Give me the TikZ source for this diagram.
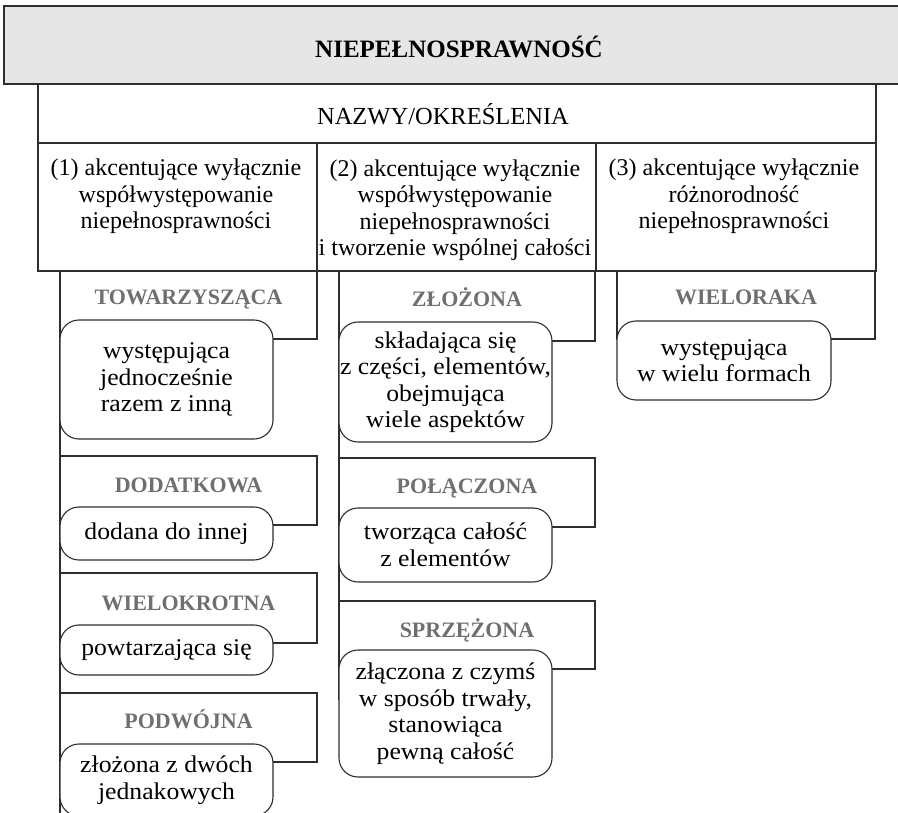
\documentclass[tikz,border=0pt]{standalone}
\usepackage{fontspec}
\setmainfont{Liberation Serif}
\newfontfamily\boxfont[FakeStretch=1.07]{Liberation Serif}
\definecolor{linec}{HTML}{2E2E2E}
\definecolor{catgrey}{HTML}{6F6F6F}
\definecolor{topfill}{HTML}{E6E6E6}
\begin{document}
\begin{tikzpicture}[x=1pt,y=-1pt,
  frame/.style={draw=linec, line width=1.1pt},
  plainbox/.style={frame, rectangle, inner sep=0pt, outer sep=0pt, anchor=north west},
  titletext/.style={font=\fontsize{25}{28}\selectfont\bfseries, inner sep=0pt, anchor=base},
  nametext/.style={font=\fontsize{24.5}{28}\selectfont, inner sep=0pt, anchor=base},
  coltext/.style={font=\fontsize{24}{26.5}\selectfont, align=center, inner sep=0pt, anchor=base},
  cattext/.style={text=catgrey, font=\fontsize{22}{25}\selectfont\bfseries, inner sep=0pt, anchor=base},
  rbox/.style={frame, rounded corners=19pt, fill=white, align=center, inner sep=0pt, outer sep=0pt,
    font=\boxfont\fontsize{24}{26.5}\selectfont, anchor=north west},
]
\useasboundingbox (0,0) rectangle (898,813);
\clip (0,0) rectangle (898,813);
% header
\node[plainbox, fill=topfill, minimum width=900, minimum height=78] (top) at (4,6) {};
\node[titletext] (title) at (459,58) {NIEPEŁNOSPRAWNOŚĆ};
\node[plainbox, fill=white, minimum width=838, minimum height=59] (names) at (38,84) {};
\node[nametext] (namest) at (443,125) {NAZWY/OKREŚLENIA};
% columns
\node[plainbox, minimum width=279, minimum height=128] (k1) at (38,143) {};
\node[plainbox, minimum width=279, minimum height=128] (k2) at (317,143) {};
\node[plainbox, minimum width=280, minimum height=128] (k3) at (596,143) {};
% (base anchor of a multi-line node = baseline of its last line)
\node[coltext] (k1t) at (176,229) {(1) akcentujące wyłącznie\\współwystępowanie\\niepełnosprawności};
\node[coltext] (k2t) at (455,256) {(2) akcentujące wyłącznie\\współwystępowanie\\niepełnosprawności\\i tworzenie wspólnej całości};
\node[coltext] (k3t) at (734,229) {(3) akcentujące wyłącznie\\różnorodność\\niepełnosprawności};
% category boxes
\node[plainbox, minimum width=257, minimum height=68] (t1) at (60,271) {};
\node[plainbox, minimum width=257, minimum height=69] (t2) at (60,456) {};
\node[plainbox, minimum width=257, minimum height=70] (t3) at (60,573) {};
\node[plainbox, minimum width=257, minimum height=69] (t4) at (60,693) {};
\node[plainbox, minimum width=256, minimum height=70] (z1) at (339,271) {};
\node[plainbox, minimum width=256, minimum height=69] (z2) at (339,458) {};
\node[plainbox, minimum width=256, minimum height=68] (z3) at (339,601) {};
\node[plainbox, minimum width=258, minimum height=68] (w1) at (617,271) {};
% connectors (vertical spines)
\draw[frame] (t1.north west) -- (60,813);
\draw[frame] (z1.north west) -- (339,700);
% category labels
\node[cattext] (t1t) at (188.5,305) {TOWARZYSZĄCA};
\node[cattext] (t2t) at (188.5,492) {DODATKOWA};
\node[cattext] (t3t) at (188.5,610) {WIELOKROTNA};
\node[cattext] (t4t) at (188.5,728) {PODWÓJNA};
\node[cattext] (z1t) at (467,307) {ZŁOŻONA};
\node[cattext] (z2t) at (467,493) {POŁĄCZONA};
\node[cattext] (z3t) at (467,637) {SPRZĘŻONA};
\node[cattext] (w1t) at (746,305) {WIELORAKA};
% rounded description boxes
\node[rbox, minimum width=213, minimum height=119] (r1) at (60,320) {występująca\\jednocześnie\\razem z inną};
\node[rbox, minimum width=213, minimum height=53] (r2) at (60,507) {dodana do innej};
\node[rbox, minimum width=213, minimum height=50] (r3) at (60,625) {powtarzająca się};
\node[rbox, minimum width=213, minimum height=72] (r4) at (60,744) {złożona z dwóch\\jednakowych};
\node[rbox, minimum width=213, minimum height=120] (r5) at (339,322) {składająca się\\z części, elementów,\\obejmująca\\wiele aspektów};
\node[rbox, minimum width=213, minimum height=74] (r6) at (339,508) {tworząca całość\\z elementów};
\node[rbox, minimum width=213, minimum height=127] (r7) at (339,650) {złączona z czymś\\w sposób trwały,\\stanowiąca\\pewną całość};
\node[rbox, minimum width=214, minimum height=79] (r8) at (617,321) {występująca\\w wielu formach};
\end{tikzpicture}
\end{document}
